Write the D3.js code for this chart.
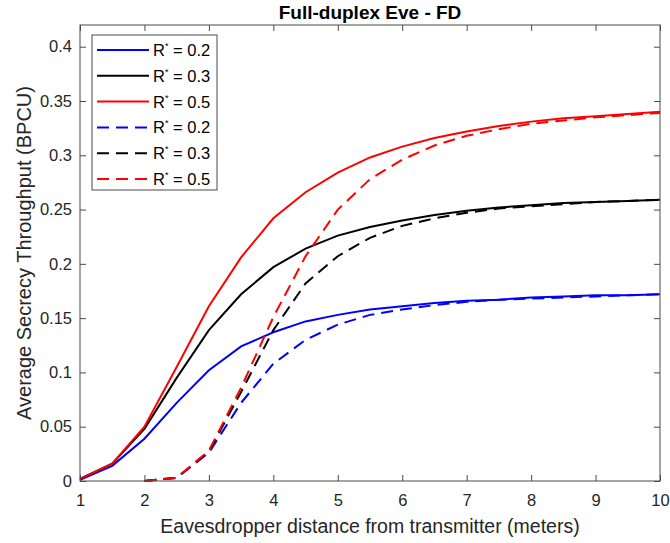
<!DOCTYPE html>
<html lang="en">
<head>
<meta charset="utf-8">
<title>Full-duplex Eve - FD</title>
<script src="https://d3js.org/d3.v7.min.js"></script>
<style>
  body { margin: 0; background: #fff; }
  text { font-family: "Liberation Sans", Arial, sans-serif; }
</style>
</head>
<body>
<svg width="670" height="543"></svg>
<script>
// distances (meters)
var xSolid = [1, 1.5, 2, 2.5, 3, 3.5, 4, 4.5, 5, 5.5, 6, 6.5, 7, 7.5, 8, 8.5, 9, 9.5, 10];
var xDashed = [2, 2.5, 3, 3.5, 4, 4.5, 5, 5.5, 6, 6.5, 7, 7.5, 8, 8.5, 9, 9.5, 10];

// solid curves
var solid02 = [0.001, 0.014, 0.039, 0.072, 0.102, 0.124, 0.137, 0.147, 0.153, 0.158, 0.161, 0.164, 0.166, 0.167, 0.169, 0.170, 0.171, 0.171, 0.172];
var solid03 = [0.002, 0.016, 0.048, 0.095, 0.139, 0.172, 0.197, 0.214, 0.226, 0.234, 0.240, 0.245, 0.249, 0.252, 0.254, 0.256, 0.257, 0.258, 0.259];
var solid05 = [0.002, 0.016, 0.050, 0.105, 0.161, 0.206, 0.242, 0.266, 0.284, 0.298, 0.308, 0.316, 0.322, 0.327, 0.331, 0.334, 0.336, 0.338, 0.340];

// dashed curves
var dashed02 = [0.000, 0.003, 0.026, 0.072, 0.108, 0.130, 0.144, 0.153, 0.158, 0.162, 0.165, 0.167, 0.168, 0.169, 0.170, 0.171, 0.172];
var dashed03 = [0.000, 0.003, 0.027, 0.082, 0.139, 0.182, 0.207, 0.224, 0.235, 0.242, 0.247, 0.251, 0.253, 0.255, 0.257, 0.258, 0.259];
var dashed05 = [0.000, 0.003, 0.028, 0.086, 0.151, 0.207, 0.250, 0.278, 0.296, 0.309, 0.318, 0.324, 0.329, 0.332, 0.335, 0.337, 0.339];

var xTicks = [1, 2, 3, 4, 5, 6, 7, 8, 9, 10];
var yTicks = [0, 0.05, 0.1, 0.15, 0.2, 0.25, 0.3, 0.35, 0.4];

var series = [
  { label: "0.2", xs: xSolid, ys: solid02, color: "#0000ff", dash: null },
  { label: "0.3", xs: xSolid, ys: solid03, color: "#000000", dash: null },
  { label: "0.5", xs: xSolid, ys: solid05, color: "#ff0000", dash: null },
  { label: "0.2", xs: xDashed, ys: dashed02, color: "#0000ff", dash: "12,7" },
  { label: "0.3", xs: xDashed, ys: dashed03, color: "#000000", dash: "12,7" },
  { label: "0.5", xs: xDashed, ys: dashed05, color: "#ff0000", dash: "12,7" }
];

var svg = d3.select("svg");
var margin = { left: 80, right: 10, top: 25, bottom: 62 };
var width = 670 - margin.left - margin.right,
    height = 543 - margin.top - margin.bottom;

var x = d3.scaleLinear().domain([1, 10]).range([0, width]);
var y = d3.scaleLinear().domain([0, 0.42]).range([height, 0]);

var g = svg.append("g").attr("transform", "translate(" + margin.left + "," + margin.top + ")");

var axisColor = "#4a4a4a";

// lines
var line = d3.line()
  .x(function(d) { return x(d[0]); })
  .y(function(d) { return y(d[1]); });

series.forEach(function(s) {
  var pts = s.xs.map(function(v, i) { return [v, s.ys[i]]; });
  g.append("path")
    .datum(pts)
    .attr("d", line)
    .attr("fill", "none")
    .attr("stroke", s.color)
    .attr("stroke-width", 2)
    .attr("stroke-dasharray", s.dash);
});

// axes (ticks inside, box on)
function styleAxis(sel) {
  sel.select(".domain").remove();
  sel.selectAll(".tick line").attr("stroke", axisColor);
  sel.selectAll(".tick text").attr("fill", "#262626").style("font-size", "16.5px")
    .style("font-family", "'Liberation Sans', Arial, sans-serif");
}

g.append("g").attr("transform", "translate(0," + height + ")")
  .call(d3.axisBottom(x).tickValues(xTicks).tickSize(-6).tickPadding(13).tickFormat(d3.format("d")))
  .call(styleAxis);
g.append("g")
  .call(d3.axisTop(x).tickValues(xTicks).tickSize(-6).tickFormat(""))
  .call(styleAxis);
g.append("g")
  .call(d3.axisLeft(y).tickValues(yTicks).tickSize(-6).tickPadding(8).tickFormat(function(d) { return d === 0 ? "0" : d3.format("")(+d.toFixed(2)); }))
  .call(styleAxis);
g.append("g").attr("transform", "translate(" + width + ",0)")
  .call(d3.axisRight(y).tickValues(yTicks).tickSize(-6).tickFormat(""))
  .call(styleAxis);

g.append("rect")
  .attr("width", width).attr("height", height)
  .attr("fill", "none").attr("stroke", axisColor).attr("stroke-width", 1);

// title and labels
svg.append("text")
  .attr("x", margin.left + width / 2).attr("y", 19)
  .attr("text-anchor", "middle")
  .style("font-size", "19px").style("font-weight", "bold")
  .attr("fill", "#000")
  .text("Full-duplex Eve - FD");

svg.append("text")
  .attr("x", margin.left + width / 2).attr("y", 533)
  .attr("text-anchor", "middle")
  .style("font-size", "19.5px")
  .attr("fill", "#262626")
  .text("Eavesdropper distance from transmitter (meters)");

svg.append("text")
  .attr("transform", "translate(31," + (margin.top + height / 2) + ") rotate(-90)")
  .attr("text-anchor", "middle")
  .style("font-size", "20px")
  .attr("fill", "#262626")
  .text("Average Secrecy Throughput (BPCU)");

// legend
var legend = g.append("g").attr("transform", "translate(12,10)");
legend.append("rect")
  .attr("width", 125).attr("height", 155)
  .attr("fill", "#fff").attr("stroke", axisColor).attr("stroke-width", 1);

series.forEach(function(s, i) {
  var ly = 15 + i * 25.8;
  legend.append("line")
    .attr("x1", 5).attr("x2", 57).attr("y1", ly).attr("y2", ly)
    .attr("stroke", s.color).attr("stroke-width", 2)
    .attr("stroke-dasharray", s.dash);
  var t = legend.append("text")
    .attr("x", 61).attr("y", ly + 6)
    .style("font-size", "16.5px").attr("fill", "#000");
  t.append("tspan").text("R");
  t.append("tspan").attr("dy", -7).style("font-size", "9px").text("*");
  t.append("tspan").attr("dy", 7).text(" = " + s.label);
});
</script>
</body>
</html>
